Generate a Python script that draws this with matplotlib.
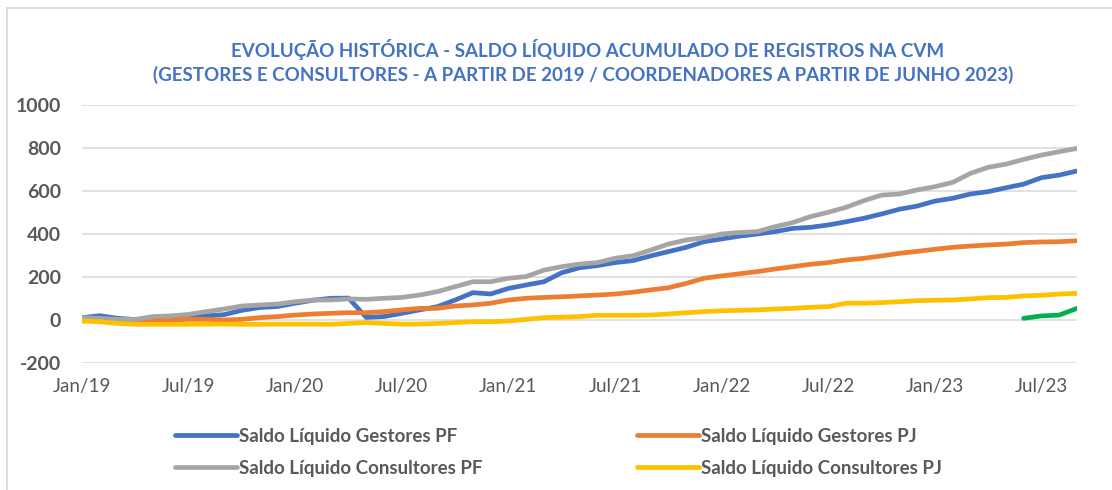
import numpy as np
import pandas as pd
import matplotlib
matplotlib.use("Agg")
import matplotlib.pyplot as plt
from matplotlib.lines import Line2D

plt.rcParams['font.family'] = ['Lato', 'DejaVu Sans']

# ---- data ----
months = pd.date_range("2019-01-01", "2023-09-01", freq="MS")
month_labels = [d.strftime("%b/%y") for d in months]

gestores_pf = [11, 20, 8, 2, 3, 6, 11, 19, 25, 45, 58, 63, 78, 92, 101, 102,
               12, 16, 31, 47, 62, 93, 127, 121, 147, 163, 178, 220, 243, 253, 267, 276, 298, 318, 338, 364, 377,
               390, 400, 411, 426, 431, 442, 457, 473, 493, 515, 530, 553, 566, 586, 597, 615, 632, 662, 674, 693]
gestores_pj = [0, 0, -3, -8, -3, 0, 3, 3, 0, 3, 11, 16, 23, 28, 31, 34,
               34, 39, 47, 54, 54, 65, 70, 78, 93, 101, 105, 108, 112, 116, 121, 129, 140, 150, 170, 194, 205,
               215, 225, 237, 248, 259, 267, 279, 287, 298, 310, 319, 329, 338, 344, 349, 353, 360, 363, 364, 369]
consultores_pf = [11, 8, 3, 3, 16, 19, 26, 39, 51, 65, 70, 74, 85, 93, 93, 98,
                  96, 101, 105, 116, 132, 155, 178, 178, 194, 202, 232, 248, 260, 267, 287, 299, 325, 353, 372, 383, 400,
                  407, 411, 434, 453, 481, 501, 524, 555, 581, 586, 605, 620, 640, 682, 710, 725, 747, 767, 783, 798]
consultores_pj = [-5, -8, -16, -20, -20, -20, -20, -19, -19, -20, -20, -19, -19, -19, -20, -16,
                  -12, -16, -19, -19, -16, -12, -8, -8, -5, 3, 11, 13, 16, 22, 22, 22, 23, 28, 34, 39, 43,
                  45, 47, 51, 54, 59, 62, 78, 78, 81, 85, 90, 92, 93, 98, 104, 105, 112, 115, 121, 124]
coord_months = ["Jun/23", "Jul/23", "Aug/23", "Sep/23"]
coordenadores = [8, 19, 23, 54]

tick_labels = ["Jan/19", "Jul/19", "Jan/20", "Jul/20", "Jan/21", "Jul/21",
               "Jan/22", "Jul/22", "Jan/23", "Jul/23"]
y_ticks = [-200, 0, 200, 400, 600, 800, 1000]

series_names = ["Saldo Líquido Gestores PF", "Saldo Líquido Gestores PJ",
                "Saldo Líquido Consultores PF", "Saldo Líquido Consultores PJ"]
colors = {"gpf": "#4472C4", "gpj": "#ED7D31", "cpf": "#A5A5A5", "cpj": "#FFC000", "coord": "#00B050"}

# ---- figure ----
W, H = 1112, 490
fig = plt.figure(figsize=(W / 100, H / 100), dpi=100)
ax = fig.add_axes([82 / W, 1 - 363 / H, (1077 - 82) / W, (363 - 105) / H])

x = np.arange(len(month_labels))
xc = [month_labels.index(m) for m in coord_months]
lw = 3.4
kw = dict(linewidth=lw, solid_capstyle="round", solid_joinstyle="round")
l_gpf, = ax.plot(x, gestores_pf, color=colors["gpf"], **kw)
l_gpj, = ax.plot(x, gestores_pj, color=colors["gpj"], **kw)
l_cpf, = ax.plot(x, consultores_pf, color=colors["cpf"], **kw)
l_cpj, = ax.plot(x, consultores_pj, color=colors["cpj"], **kw)
ax.plot(xc, coordenadores, color=colors["coord"], **kw)

l_cpf.set_zorder(2.1)
l_cpj.set_zorder(2.2)

ax.set_xlim(0, len(month_labels) - 1)
ax.set_ylim(-200, 1000)
ax.set_yticks(y_ticks)
ax.set_yticklabels([str(v) for v in y_ticks], fontsize=14, fontweight="bold", color="#595959")
ax.set_xticks([month_labels.index(t) for t in tick_labels])
ax.set_xticklabels(tick_labels, fontsize=13.5, color="#595959")
ax.tick_params(axis="y", length=0, pad=15)
ax.tick_params(axis="x", length=0, pad=11)
ax.grid(axis="y", color="#D9D9D9", linewidth=1.1)
ax.set_axisbelow(True)
for s in ax.spines.values():
    s.set_visible(False)

# ---- title ----
tcol = "#4472C4"
fig.text(588 / W, 1 - 50 / H, "EVOLUÇÃO HISTÓRICA - SALDO LÍQUIDO ACUMULADO DE REGISTROS NA CVM",
         ha="center", va="center", fontsize=13.5, fontweight="bold", color=tcol)
fig.text(583 / W, 1 - 75 / H,
         "(GESTORES E CONSULTORES - A PARTIR DE 2019 / COORDENADORES A PARTIR DE JUNHO 2023)",
         ha="center", va="center", fontsize=13.5, fontweight="bold", color=tcol)

# ---- legends ----
leg_kw = dict(frameon=False, fontsize=13.5, handlelength=3.3, handletextpad=0.1,
              borderpad=0, borderaxespad=0, labelspacing=0.78, loc="upper left")
leg1 = fig.legend([l_gpf, l_cpf], [series_names[0], series_names[2]],
                  bbox_to_anchor=(175 / W, 1 - 428 / H), **leg_kw)
leg2 = fig.legend([l_gpj, l_cpj], [series_names[1], series_names[3]],
                  bbox_to_anchor=(637 / W, 1 - 428 / H), **leg_kw)
for leg in (leg1, leg2):
    for t in leg.get_texts():
        t.set_color("#595959")
        t.set_fontweight("bold")
    for h in leg.get_lines():
        h.set_linewidth(lw)

# ---- chart frame (top and left visible) ----
fc = "#D9D9D9"
fig.add_artist(Line2D([7 / W, 1], [1 - 8 / H, 1 - 8 / H], color=fc, linewidth=1.3))
fig.add_artist(Line2D([7 / W, 7 / W], [0, 1 - 8 / H], color=fc, linewidth=1.3))

fig.savefig("out.png", dpi=100)
